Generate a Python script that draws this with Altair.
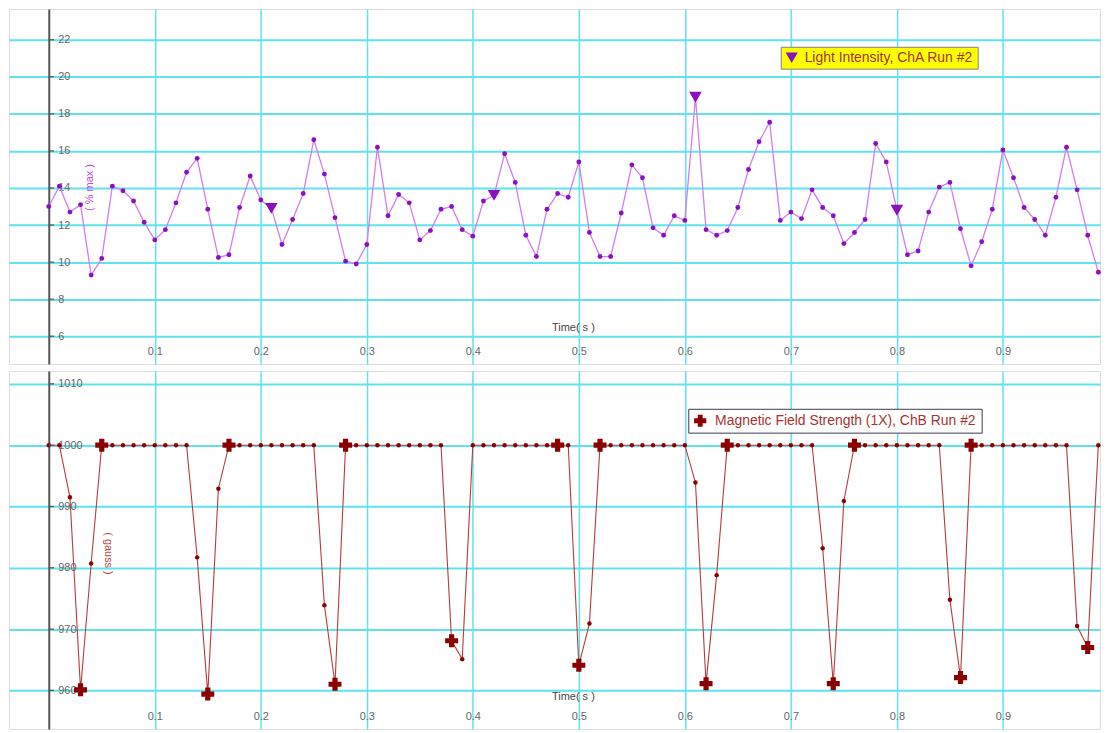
import altair as alt
import pandas as pd

# ---------------- data ----------------
time_s = [0.00, 0.01, 0.02, 0.03, 0.04, 0.05, 0.06, 0.07, 0.08, 0.09,
          0.10, 0.11, 0.12, 0.13, 0.14, 0.15, 0.16, 0.17, 0.18, 0.19,
          0.20, 0.21, 0.22, 0.23, 0.24, 0.25, 0.26, 0.27, 0.28, 0.29,
          0.30, 0.31, 0.32, 0.33, 0.34, 0.35, 0.36, 0.37, 0.38, 0.39,
          0.40, 0.41, 0.42, 0.43, 0.44, 0.45, 0.46, 0.47, 0.48, 0.49,
          0.50, 0.51, 0.52, 0.53, 0.54, 0.55, 0.56, 0.57, 0.58, 0.59,
          0.60, 0.61, 0.62, 0.63, 0.64, 0.65, 0.66, 0.67, 0.68, 0.69,
          0.70, 0.71, 0.72, 0.73, 0.74, 0.75, 0.76, 0.77, 0.78, 0.79,
          0.80, 0.81, 0.82, 0.83, 0.84, 0.85, 0.86, 0.87, 0.88, 0.89,
          0.90, 0.91, 0.92, 0.93, 0.94, 0.95, 0.96, 0.97, 0.98, 0.99]

light_pct = [13.0, 14.1, 12.7, 13.1, 9.3, 10.2, 14.1, 13.85, 13.3, 12.15,
             11.2, 11.75, 13.2, 14.85, 15.6, 12.85, 10.25, 10.4, 12.95, 14.65,
             13.35, 12.9, 10.95, 12.3, 13.7, 16.6, 14.75, 12.4, 10.05, 9.9,
             10.95, 16.2, 12.5, 13.65, 13.2, 11.2, 11.7, 12.85, 13.0, 11.75,
             11.4, 13.3, 13.6, 15.85, 14.3, 11.45, 10.3, 12.85, 13.7, 13.5,
             15.4, 11.6, 10.3, 10.3, 12.65, 15.25, 14.55, 11.85, 11.45, 12.5,
             12.25, 18.9, 11.75, 11.45, 11.7, 12.95, 15.0, 16.5, 17.55, 12.25,
             12.7, 12.35, 13.9, 12.95, 12.5, 11.0, 11.6, 12.3, 16.4, 15.4,
             12.8, 10.4, 10.6, 12.7, 14.05, 14.3, 11.8, 9.8, 11.1, 12.85,
             16.05, 14.55, 12.95, 12.3, 11.45, 13.5, 16.2, 13.9, 11.45, 9.45]

field_gauss = [1000, 1000, 991.5, 960.1, 980.7, 1000, 1000, 1000, 1000, 1000,
               1000, 1000, 1000, 1000, 981.7, 959.4, 992.9, 1000, 1000, 1000,
               1000, 1000, 1000, 1000, 1000, 1000, 973.9, 961.0, 1000, 1000,
               1000, 1000, 1000, 1000, 1000, 1000, 1000, 1000, 968.1, 965.1,
               1000, 1000, 1000, 1000, 1000, 1000, 1000, 1000, 1000, 1000,
               964.1, 970.9, 1000, 1000, 1000, 1000, 1000, 1000, 1000, 1000,
               1000, 993.9, 961.1, 978.8, 1000, 1000, 1000, 1000, 1000, 1000,
               1000, 1000, 1000, 983.2, 961.1, 990.9, 1000, 1000, 1000, 1000,
               1000, 1000, 1000, 1000, 1000, 974.8, 962.1, 1000, 1000, 1000,
               1000, 1000, 1000, 1000, 1000, 1000, 1000, 970.5, 967.0, 1000]

light_marker_times = [0.21, 0.42, 0.61, 0.80]
field_marker_times = [0.03, 0.05, 0.15, 0.17, 0.27, 0.28, 0.38, 0.48, 0.50,
                      0.52, 0.62, 0.64, 0.74, 0.76, 0.86, 0.87, 0.98]

x_ticks = [0.1, 0.2, 0.3, 0.4, 0.5, 0.6, 0.7, 0.8, 0.9]
light_ticks = [6, 8, 10, 12, 14, 16, 18, 20, 22]
field_ticks = [960, 970, 980, 990, 1000, 1010]

light_label = "Light Intensity, ChA Run #2"
field_label = "Magnetic Field Strength (1X), ChB Run #2"
x_title = "Time( s )"
light_units = "( % max )"
field_units = "( gauss )"

# ---------------- tables ----------------
df = pd.DataFrame({"t": time_s, "light": light_pct, "field": field_gauss})
df["series_l"] = light_label
df["series_f"] = field_label
df_lm = df[df["t"].round(2).isin(light_marker_times)]
df_fm = df[df["t"].round(2).isin(field_marker_times)]
df_lt = pd.DataFrame({"light": light_ticks})
df_ft = pd.DataFrame({"field": field_ticks})

# ---------------- style ----------------
FONT = "Liberation Sans"
GRID = "#5fe3ee"
AXIS_C = "#555555"
LABEL_C = "#666666"
L_LINE = "#d07ef0"
L_PT = "#8a10c0"
F_LINE = "#b83a3a"
F_PT = "#8b0000"
LEG_TXT = "#a83232"

W = 1097
H_TOP = 357
H_BOT = 360

x_scale = alt.Scale(domain=[-0.0375, 0.9916], nice=False, zero=False)


def x_axis(title_y):
    return alt.Axis(values=x_ticks, format=".1f", grid=True, gridColor=GRID,
                    gridWidth=1.5, domain=False, ticks=False, labelFlush=False,
                    labelColor=LABEL_C, labelFontSize=11, labelFont=FONT,
                    labelPadding=3, offset=-22, title=x_title, titleFont=FONT,
                    titleFontSize=11, titleFontWeight="normal", titleColor="#444444",
                    titleX=567, titleY=title_y, titleAlign="center",
                    titleBaseline="middle")


def y_axis(values, title, title_color, angle, tx, ty):
    return alt.Axis(values=values, format="d", grid=True, gridColor=GRID,
                    gridWidth=2, domain=True, domainColor=AXIS_C, domainWidth=2,
                    ticks=False, labelAlign="left", labelBaseline="middle",
                    labelPadding=-9, labelColor=LABEL_C, labelFontSize=11,
                    labelFont=FONT, offset=-40, title=title, titleFont=FONT,
                    titleFontSize=11, titleFontWeight="normal",
                    titleColor=title_color, titleAngle=angle, titleX=tx,
                    titleY=ty, titleAlign="center", titleBaseline="middle")


# ---------------- top panel ----------------
XT = alt.X("t:Q", scale=x_scale, axis=x_axis(-15))
YL = alt.Y("light:Q", scale=alt.Scale(domain=[4.5, 23.66], nice=False, zero=False),
           axis=y_axis(light_ticks, light_units, "#c048d8", 270, 41, 179))

base_l = alt.Chart(df).encode(x=XT, y=YL)
line_l = base_l.mark_line(color=L_LINE, strokeWidth=1.3)
pts_l = base_l.mark_point(filled=True, size=24, color=L_PT, opacity=1)
tri_l = alt.Chart(df_lm).mark_point(filled=True, size=160, opacity=1).encode(
    x=XT, y=YL, color=alt.value(L_PT),
    shape=alt.Shape("series_l:N", scale=alt.Scale(range=["triangle-down"]),
                    legend=alt.Legend(orient="none", legendX=776, legendY=38,
                                      title=None, fillColor="#ffff00",
                                      strokeColor="#808080", padding=4,
                                      labelColor=LEG_TXT, labelFontSize=14,
                                      labelFont=FONT, labelLimit=500,
                                      symbolSize=150, symbolFillColor=L_PT,
                                      symbolStrokeWidth=0, labelOffset=6)))
tk_l = alt.Chart(df_lt).mark_rule(color=AXIS_C, strokeWidth=1.2).encode(
    x=alt.datum(0), x2=alt.datum(0.005), y=YL)

top = alt.layer(line_l, pts_l, tri_l, tk_l).properties(width=W, height=H_TOP)

# ---------------- bottom panel ----------------
XB = alt.X("t:Q", scale=x_scale, axis=x_axis(-11))
YF = alt.Y("field:Q", scale=alt.Scale(domain=[953.7, 1012.1], nice=False, zero=False),
           axis=y_axis(field_ticks, field_units, "#b84040", 90, 59, 183))

base_f = alt.Chart(df).encode(x=XB, y=YF)
line_f = base_f.mark_line(color=F_LINE, strokeWidth=1.1)
pts_f = base_f.mark_point(filled=True, size=20, color=F_PT, opacity=1)
crs_f = alt.Chart(df_fm).mark_point(filled=True, size=170, opacity=1).encode(
    x=XB, y=YF, color=alt.value(F_PT),
    shape=alt.Shape("series_f:N", scale=alt.Scale(range=["cross"]),
                    legend=alt.Legend(orient="none", legendX=683, legendY=38,
                                      title=None, fillColor="#ffffff",
                                      strokeColor="#3a3a50", padding=5,
                                      labelColor=LEG_TXT, labelFontSize=14,
                                      labelFont=FONT, labelLimit=500,
                                      symbolSize=150, symbolFillColor=F_PT,
                                      symbolStrokeWidth=0, labelOffset=8)))
tk_f = alt.Chart(df_ft).mark_rule(color=AXIS_C, strokeWidth=1.2).encode(
    x=alt.datum(0), x2=alt.datum(0.005), y=YF)

bottom = alt.layer(line_f, pts_f, crs_f, tk_f).properties(width=W, height=H_BOT)

chart = alt.vconcat(top, bottom, spacing=5).resolve_scale(
    y="independent", shape="independent"
).resolve_legend(shape="independent").properties(
    padding={"left": 0, "top": -2, "right": 0, "bottom": 0}
).configure_view(
    stroke="#a0a0a0", strokeWidth=2
).configure(background="white")

chart.save("out.html", embed_options={"renderer": "svg", "actions": False})
